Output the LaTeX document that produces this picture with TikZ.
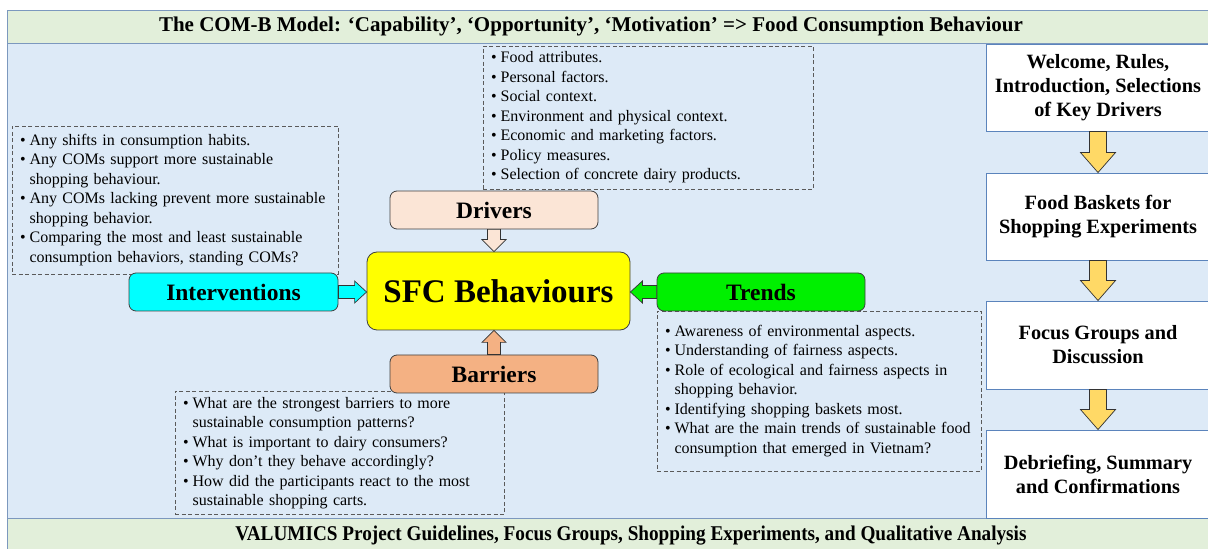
\documentclass[tikz,border=0pt]{standalone}
\usepackage{fontspec}
\setmainfont{Liberation Serif}
\usetikzlibrary{calc}

\definecolor{bgblue}{RGB}{221,234,247}
\definecolor{bandgreen}{RGB}{226,239,218}
\definecolor{frameblue}{RGB}{124,152,190}
\definecolor{stepline}{RGB}{91,132,188}
\definecolor{arrowyellow}{RGB}{255,217,102}
\definecolor{drvfill}{RGB}{251,229,214}
\definecolor{barfill}{RGB}{244,177,131}
\definecolor{intfill}{RGB}{0,255,255}
\definecolor{trdfill}{RGB}{0,240,0}
\definecolor{sfcfill}{RGB}{255,255,0}
\definecolor{noteline}{RGB}{90,90,90}

% fat arrow from #1 to the tip #2: fill, half shaft, half head, head length
\newcommand{\blockarrow}[6]{%
  \coordinate (aa) at (#1);
  \coordinate (bb) at (#2);
  \coordinate (hh) at ($(bb)!#6!(aa)$);
  \draw[blockline,fill=#3] ($(aa)!#4!90:(bb)$) -- ($(hh)!#4!90:(bb)$)
    -- ($(hh)!#5!90:(bb)$) -- (bb) -- ($(hh)!#5!-90:(bb)$)
    -- ($(hh)!#4!-90:(bb)$) -- ($(aa)!#4!-90:(bb)$) -- cycle;}

\begin{document}
\begin{tikzpicture}[x=1pt,y=1pt]
\tikzset{
  band/.style={draw=frameblue,fill=bandgreen,line width=0.8pt},
  headline/.style={font=\fontsize{21}{25}\selectfont\bfseries},
  stagebox/.style={draw=stepline,fill=white,line width=0.9pt,minimum width=224,
    minimum height=87,align=center,font=\fontsize{20.3}{24}\selectfont\bfseries},
  factor/.style={draw=black!75,rounded corners=7pt,line width=0.8pt,minimum width=208,
    minimum height=38,font=\fontsize{23.5}{28}\selectfont\bfseries},
  notes/.style={draw=noteline,dash pattern=on 4pt off 2.5pt,line width=0.8pt,
    align=left,inner xsep=8pt,font=\fontsize{16}{19.5}\selectfont},
  blockline/.style={draw=black!80,line width=0.7pt,line join=miter}
}
\useasboundingbox[fill=white] (0,0) rectangle (1208,549);

% frame and bands
\draw[band] (7,539) rectangle (1216,506);
\draw[draw=frameblue,fill=bgblue,line width=0.8pt] (7,506) rectangle (1216,31);
\draw[band] (7,31) rectangle (1216,-6);
\node[headline] (title) at (591,522.5) {The COM-B Model: ‘Capability’, ‘Opportunity’, ‘Motivation’ => Food Consumption Behaviour};
\node[headline,xscale=0.915,transform shape] (footer) at (631,13) {VALUMICS Project Guidelines, Focus Groups, Shopping Experiments, and Qualitative Analysis};

% session steps
\node[stagebox] (s1) at (1098,461.5) {Welcome, Rules,\\ Introduction, Selections\\ of Key Drivers};
\node[stagebox] (s2) at (1098,332.5) {Food Baskets for\\ Shopping Experiments};
\node[stagebox,minimum height=88] (s3) at (1098,204) {Focus Groups and\\ Discussion};
\node[stagebox,minimum height=88] (s4) at (1098,75) {Debriefing, Summary\\ and Confirmations};

\blockarrow{s1.south}{s1.south |- s2.north}{arrowyellow}{8.5pt}{17.5pt}{20pt}
\blockarrow{s2.south}{s2.south |- s3.north}{arrowyellow}{8.5pt}{17.5pt}{20pt}
\blockarrow{s3.south}{s3.south |- s4.north}{arrowyellow}{8.5pt}{17.5pt}{20pt}

% question lists
\node[notes,minimum width=326,minimum height=148,text width=310] (intnotes) at (175,349) {%
\begin{tabular}{@{}l@{\hspace{4pt}}l@{}}
\textbullet & Any shifts in consumption habits.\\
\textbullet & Any COMs support more sustainable\\
 & shopping behaviour.\\
\textbullet & Any COMs lacking prevent more sustainable\\
 & shopping behavior.\\
\textbullet & Comparing the most and least sustainable\\
 & consumption behaviors, standing COMs?
\end{tabular}};

\node[notes,minimum width=330,minimum height=141,text width=314] (drvnotes) at (648,431.5) {%
\begin{tabular}{@{}l@{\hspace{4pt}}l@{}}
\textbullet & Food attributes.\\
\textbullet & Personal factors.\\
\textbullet & Social context.\\
\textbullet & Environment and physical context.\\
\textbullet & Economic and marketing factors.\\
\textbullet & Policy measures.\\
\textbullet & Selection of concrete dairy products.
\end{tabular}};

\node[notes,minimum width=324,minimum height=160,text width=308] (trdnotes) at (819,158) {%
\begin{tabular}{@{}l@{\hspace{4pt}}l@{}}
\textbullet & Awareness of environmental aspects.\\
\textbullet & Understanding of fairness aspects.\\
\textbullet & Role of ecological and fairness aspects in\\
 & shopping behavior.\\
\textbullet & Identifying shopping baskets most.\\
\textbullet & What are the main trends of sustainable food\\
 & consumption that emerged in Vietnam?
\end{tabular}};

\node[notes,minimum width=329,minimum height=122,text width=313] (barnotes) at (339.5,96) {%
\begin{tabular}{@{}l@{\hspace{4pt}}l@{}}
\textbullet & What are the strongest barriers to more\\
 & sustainable consumption patterns?\\
\textbullet & What is important to dairy consumers?\\
\textbullet & Why don’t they behave accordingly?\\
\textbullet & How did the participants react to the most\\
 & sustainable shopping carts.
\end{tabular}};

% COM-B factors
\node[factor,fill=sfcfill,minimum width=263,minimum height=78,rounded corners=10pt,
  font=\fontsize{33}{40}\selectfont\bfseries] (sfc) at (498.5,258) {SFC Behaviours};
\node[factor,fill=drvfill] (drv) at (494,339) {Drivers};
\node[factor,fill=barfill] (bar) at (494,175) {Barriers};
\node[factor,fill=intfill,minimum width=209] (int) at (233.5,257) {Interventions};
\node[factor,fill=trdfill] (trd) at (761,257) {Trends};

\blockarrow{drv.south}{drv.south |- sfc.north}{drvfill}{6.5pt}{12pt}{12pt}
\blockarrow{bar.north}{bar.north |- sfc.south}{barfill}{6.5pt}{12pt}{12pt}
\blockarrow{int.east}{int.east -| sfc.west}{intfill}{6.5pt}{11pt}{12pt}
\blockarrow{trd.west}{trd.west -| sfc.east}{trdfill}{6.5pt}{11pt}{12pt}
\end{tikzpicture}
\end{document}
